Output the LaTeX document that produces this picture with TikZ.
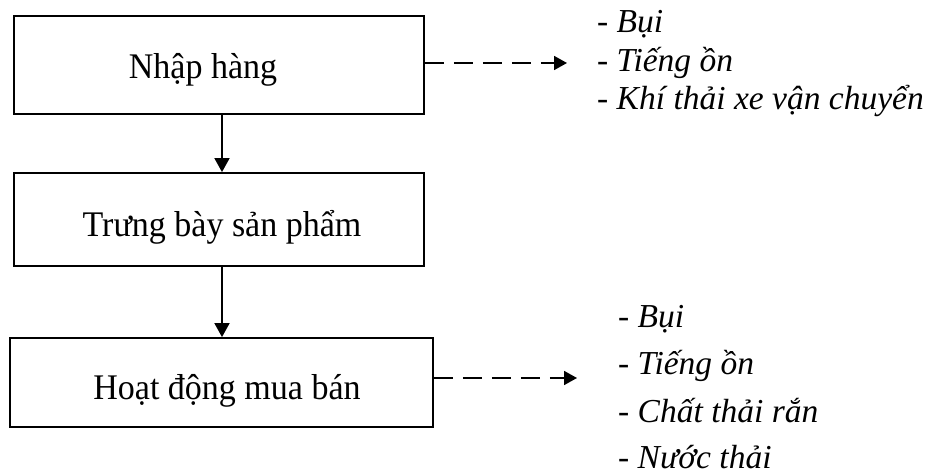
\documentclass[tikz,border=0pt]{standalone}
\usepackage{fontspec}
\setmainfont{Liberation Serif}
\usetikzlibrary{arrows.meta}
\begin{document}
\begin{tikzpicture}[x=1pt,y=1pt,
  boxstyle/.style={draw=black,line width=1.8pt,rectangle,inner sep=0pt},
  boxtext/.style={font=\fontsize{34}{40}\selectfont,inner sep=0pt,anchor=base},
  listtext/.style={font=\fontsize{33.5}{38}\selectfont\itshape,inner sep=0pt,anchor=base west},
  flow/.style={line width=1.8pt,-{Triangle[length=14pt,width=15pt]}},
  emis/.style={line width=1.8pt,dash pattern=on 19pt off 10pt,-{Triangle[length=13pt,width=14pt]}}]
\useasboundingbox (0,0) rectangle (937,474);
% boxes (y = 474 - pixel y)
\node[boxstyle,minimum width=410pt,minimum height=98pt] (b1) at (219,409) {};
\node[boxstyle,minimum width=410pt,minimum height=93pt] (b2) at (219,254.5) {};
\node[boxstyle,minimum width=423pt,minimum height=89pt] (b3) at (221.5,91.5) {};
\node[boxtext] (t1) at (203,395) {\scalebox{1}[1.06]{Nhập hàng}};
\node[boxtext] (t2) at (222,237) {\scalebox{1}[1.06]{Trưng bày sản phẩm}};
\node[boxtext] (t3) at (227,74) {\scalebox{1}[1.06]{Hoạt động mua bán}};
% vertical arrows
\draw[flow] (b1.south -| 222,0) -- (b2.north -| 222,0);
\draw[flow] (b2.south -| 222,0) -- (b3.north -| 222,0);
% emission arrows
\coordinate (e1) at (567,411);
\coordinate (e2) at (577,96);
\draw[emis] (b1.east |- e1) -- (e1);
\draw[emis] (b3.east |- e2) -- (e2);
% list 1
\node[listtext] (a1) at (597,441) {- Bụi};
\node[listtext] (a2) at (597,402) {- Tiếng ồn};
\node[listtext] (a3) at (597,364) {- Khí thải xe vận chuyển};
% list 2
\node[listtext] (c1) at (618,146) {- Bụi};
\node[listtext] (c2) at (618,99) {- Tiếng ồn};
\node[listtext] (c3) at (618,52) {- Chất thải rắn};
\node[listtext] (c4) at (618,6) {- Nước thải};
\end{tikzpicture}
\end{document}
